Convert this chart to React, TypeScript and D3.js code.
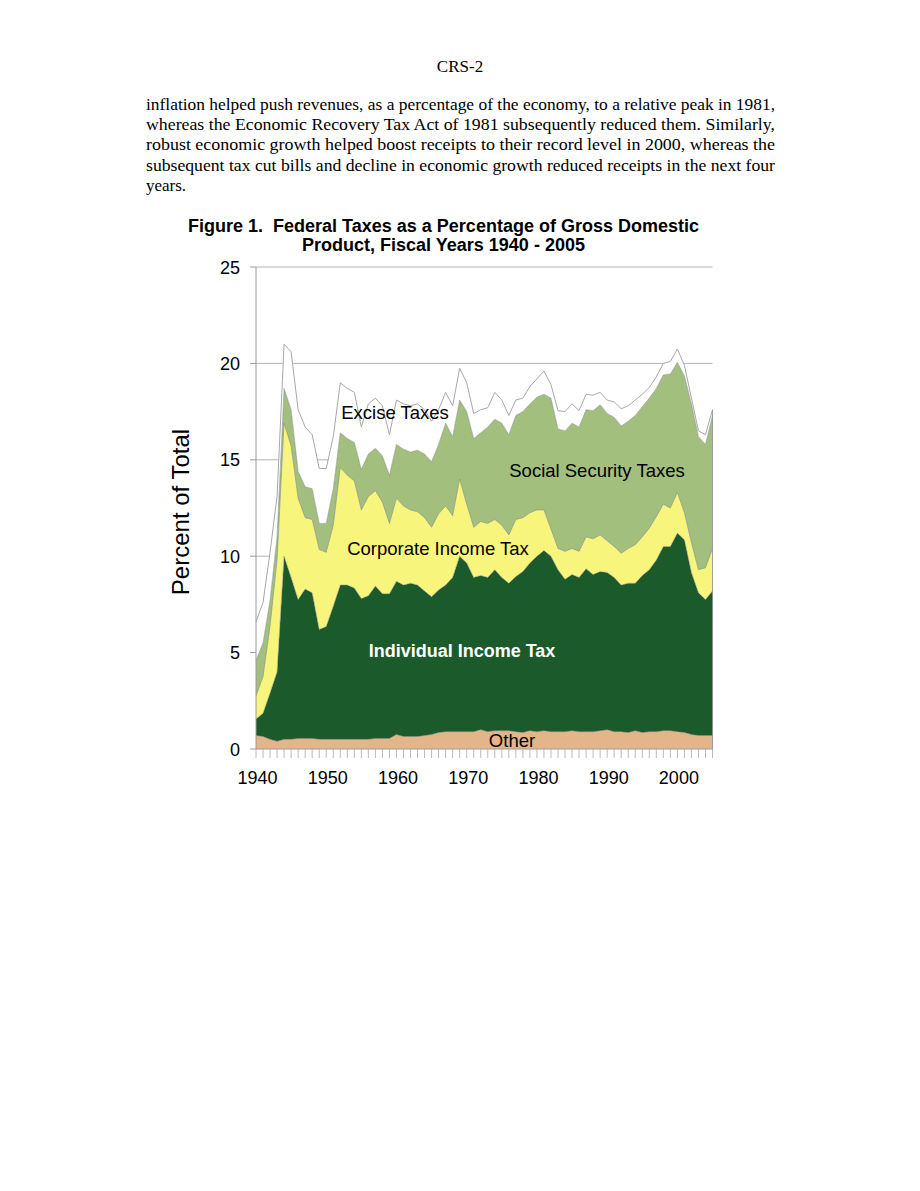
import * as d3 from "d3";

// fiscal years on the category axis
const years = d3.range(1940, 2006);

// percent of GDP by source (bottom layer first)
const other = [
  0.7, 0.65, 0.5, 0.4, 0.5, 0.5, 0.55, 0.55, 0.55, 0.5,
  0.5, 0.5, 0.5, 0.5, 0.5, 0.5, 0.5, 0.55, 0.55, 0.55,
  0.75, 0.65, 0.65, 0.65, 0.7, 0.75, 0.85, 0.9, 0.9, 0.9,
  0.9, 0.9, 1.0, 0.9, 0.95, 0.95, 0.95, 0.9, 0.85, 0.95,
  0.9, 0.95, 0.9, 0.9, 0.9, 0.95, 0.9, 0.9, 0.9, 0.95,
  1.0, 0.9, 0.9, 0.85, 0.95, 0.85, 0.9, 0.9, 0.95, 0.95,
  0.9, 0.85, 0.75, 0.7, 0.7, 0.7,
];
const individual = [
  0.85, 1.2, 2.4, 3.6, 9.5, 8.4, 7.2, 7.75, 7.55, 5.7,
  5.85, 6.9, 8.0, 8.0, 7.85, 7.3, 7.45, 7.9, 7.5, 7.5,
  7.95, 7.85, 7.95, 7.85, 7.5, 7.15, 7.4, 7.6, 8.0, 9.1,
  8.75, 8.0, 8.0, 8.0, 8.35, 7.95, 7.65, 8.05, 8.35, 8.7,
  9.1, 9.35, 9.1, 8.4, 7.9, 8.1, 8.0, 8.45, 8.15, 8.25,
  8.15, 8.0, 7.6, 7.75, 7.65, 8.15, 8.4, 8.9, 9.55, 9.55,
  10.3, 10.0, 8.4, 7.4, 7.05, 7.5,
];
const corporate = [
  1.2, 1.9, 3.45, 5.8, 6.9, 6.8, 5.25, 3.7, 3.8, 4.15,
  3.85, 4.2, 6.1, 5.7, 5.55, 4.6, 5.15, 4.95, 4.75, 3.65,
  4.3, 4.1, 3.8, 3.8, 3.8, 3.6, 3.95, 4.1, 3.2, 4.0,
  3.05, 2.6, 2.8, 2.8, 2.6, 2.7, 2.5, 2.95, 2.8, 2.6,
  2.4, 2.1, 1.4, 1.1, 1.45, 1.35, 1.35, 1.65, 1.85, 1.9,
  1.65, 1.6, 1.65, 1.8, 2.0, 2.0, 2.15, 2.25, 2.2, 2.0,
  2.1, 1.4, 1.55, 1.2, 1.65, 2.2,
];
const socialSecurity = [
  1.85, 1.75, 1.35, 1.2, 1.8, 1.9, 1.4, 1.6, 1.6, 1.35,
  1.5, 1.9, 1.8, 1.9, 2.0, 2.1, 2.2, 2.2, 2.4, 2.5,
  2.8, 2.95, 3.0, 3.2, 3.3, 3.4, 3.6, 4.3, 4.1, 4.1,
  4.8, 4.6, 4.6, 5.0, 5.2, 5.3, 5.2, 5.4, 5.5, 5.65,
  5.85, 6.0, 6.8, 6.2, 6.25, 6.5, 6.45, 6.6, 6.65, 6.75,
  6.6, 6.7, 6.6, 6.6, 6.7, 6.75, 6.75, 6.65, 6.7, 6.95,
  6.75, 7.1, 7.2, 6.9, 6.4, 6.9,
];
const excise = [
  2.0, 2.1, 2.5, 2.1, 2.3, 3.0, 3.2, 3.1, 2.8, 2.85,
  2.85, 2.7, 2.6, 2.6, 2.6, 2.2, 2.6, 2.6, 2.6, 2.1,
  2.3, 2.35, 2.4, 2.4, 2.3, 2.1, 1.8, 1.6, 1.6, 1.65,
  1.5, 1.3, 1.2, 1.0, 1.4, 1.2, 1.0, 0.8, 0.7, 0.9,
  0.95, 1.2, 0.7, 0.95, 1.0, 1.0, 0.85, 0.8, 0.8, 0.65,
  0.7, 0.8, 0.9, 0.8, 0.8, 0.65, 0.55, 0.6, 0.6, 0.65,
  0.7, 0.55, 0.3, 0.3, 0.5, 0.3,
];

const seriesKeys = ["other", "individual", "corporate", "social", "excise"];
const seriesColors = ["#E5B58A", "#1A5A2B", "#F8F57D", "#A2BF7E", "#FFFFFF"];

const yTicks = [0, 5, 10, 15, 20, 25];
const xLabels = [1940, 1950, 1960, 1970, 1980, 1990, 2000];

const bodyLines = [
  "inflation helped push revenues, as a percentage of the economy, to a relative peak in 1981,",
  "whereas the Economic Recovery Tax Act of 1981 subsequently reduced them. Similarly,",
  "robust economic growth helped boost receipts to their record level in 2000, whereas the",
  "subsequent tax cut bills and decline in economic growth reduced receipts in the next four",
  "years.",
];

const labels = [
  { text: "Excise Taxes", x: 395, y: 412, color: "#000", bold: false },
  { text: "Social Security Taxes", x: 597, y: 470, color: "#000", bold: false },
  { text: "Corporate Income Tax", x: 438, y: 548, color: "#000", bold: false },
  { text: "Individual Income Tax", x: 462, y: 650, color: "#fff", bold: true },
  { text: "Other", x: 512, y: 740, color: "#000", bold: false },
];

const rows = years.map((yr, i) => ({
  year: yr,
  other: other[i],
  individual: individual[i],
  corporate: corporate[i],
  social: socialSecurity[i],
  excise: excise[i],
}));

export default function App() {
  const x = d3.scaleLinear().domain([1940, 2005]).range([256, 712.5]);
  const y = d3.scaleLinear().domain([0, 25]).range([749, 267]);

  const stacked = d3.stack<any>().keys(seriesKeys)(rows);
  const area = d3
    .area<any>()
    .x((d) => x(d.data.year))
    .y0((d) => y(d[0]))
    .y1((d) => y(d[1]));
  const topLine = d3
    .line<any>()
    .x((d) => x(d.data.year))
    .y((d) => y(d[1]));

  const sans = "Liberation Sans, Arial, sans-serif";
  const serif = "Liberation Serif, Times New Roman, serif";

  return (
    <svg
      width={920}
      height={1191}
      style={{ position: "absolute", left: 0, top: 0, background: "#fff" }}
    >
      <text x={460} y={72} textAnchor="middle" fontFamily={serif} fontSize={17}>
        CRS-2
      </text>
      {bodyLines.map((line, i) => (
        <text
          key={i}
          x={146}
          y={110 + i * 20.2}
          fontFamily={serif}
          fontSize={17}
          textLength={i < bodyLines.length - 1 ? 629 : undefined}
          lengthAdjust="spacingAndGlyphs"
        >
          {line}
        </text>
      ))}

      <text x={443.5} y={232} textAnchor="middle" fontFamily={sans} fontSize={18} fontWeight="bold">
        Figure 1.{"\u00a0\u00a0"}Federal Taxes as a Percentage of Gross Domestic
      </text>
      <text x={443.5} y={251} textAnchor="middle" fontFamily={sans} fontSize={18} fontWeight="bold">
        Product, Fiscal Years 1940 - 2005
      </text>

      {/* gridlines */}
      {yTicks.slice(1).map((t) => (
        <line key={t} x1={256} x2={712.5} y1={y(t)} y2={y(t)} stroke="#b4b4b4" strokeWidth={1} />
      ))}

      {/* stacked areas */}
      {stacked.map((s, i) => (
        <path key={s.key} d={area(s) || ""} fill={seriesColors[i]} />
      ))}
      {stacked.map((s, i) => (
        <path
          key={"l" + s.key}
          d={topLine(s) || ""}
          fill="none"
          stroke={i === 4 ? "#a8a8a8" : "#7d7d7d"}
          strokeWidth={i === 4 ? 1 : 0.5}
        />
      ))}
      <line x1={712.5} x2={712.5} y1={y(0)} y2={y(stacked[4][65][1])} stroke="#8a8a8a" strokeWidth={0.8} />

      {/* axes */}
      <line x1={256} x2={256} y1={y(25)} y2={y(0)} stroke="#9a9a9a" strokeWidth={1} />
      <line x1={256} x2={712.5} y1={y(0)} y2={y(0)} stroke="#9a9a9a" strokeWidth={1} />
      {yTicks.map((t) => (
        <g key={"yt" + t}>
          <line x1={250} x2={256} y1={y(t)} y2={y(t)} stroke="#9a9a9a" />
          <text x={240} y={y(t) + 6.5} textAnchor="end" fontFamily={sans} fontSize={18}>
            {t}
          </text>
        </g>
      ))}
      {years.map((yr) => (
        <line key={"xt" + yr} x1={x(yr)} x2={x(yr)} y1={y(0)} y2={y(0) + 9} stroke="#a8a8a8" strokeWidth={0.8} />
      ))}
      {xLabels.map((yr) => (
        <text key={"xl" + yr} x={x(yr) + 1.5} y={784} textAnchor="middle" fontFamily={sans} fontSize={18}>
          {yr}
        </text>
      ))}

      <text
        transform="translate(189,512) rotate(-90)"
        textAnchor="middle"
        fontFamily={sans}
        fontSize={24}
      >
        Percent of Total
      </text>

      {labels.map((l) => (
        <text
          key={l.text}
          x={l.x}
          y={l.y + 6.5}
          textAnchor="middle"
          fontFamily={sans}
          fontSize={l.bold ? 18 : 18.5}
          fontWeight={l.bold ? "bold" : "normal"}
          fill={l.color}
        >
          {l.text}
        </text>
      ))}
    </svg>
  );
}
